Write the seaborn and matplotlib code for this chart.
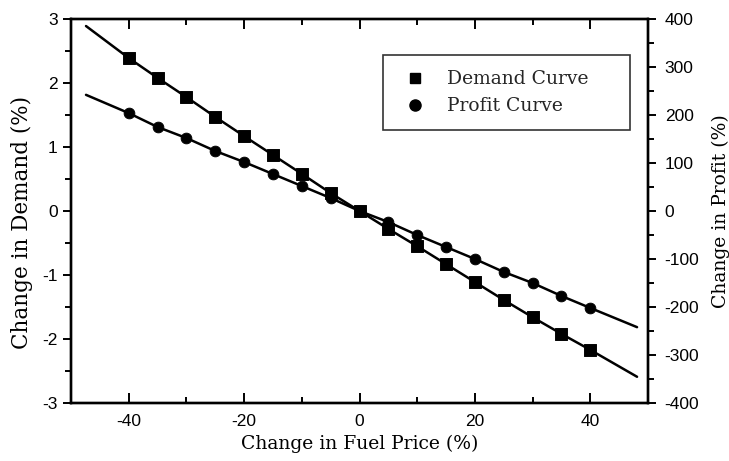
import numpy as np
import pandas as pd
import seaborn as sns
import matplotlib
matplotlib.use("Agg")
import matplotlib.pyplot as plt
from matplotlib.lines import Line2D
from matplotlib.ticker import MultipleLocator

# ---- data ----
fuel_change = [-40, -35, -30, -25, -20, -15, -10, -5, 0, 5, 10, 15, 20, 25, 30, 35, 40]
demand_change = [2.39, 2.08, 1.78, 1.47, 1.17, 0.875, 0.58, 0.28, 0.0,
                 -0.28, -0.55, -0.83, -1.11, -1.39, -1.66, -1.92, -2.17]
profit_change = [204, 175, 152, 125, 102, 77, 52, 27, 0,
                 -23, -50, -75, -100, -127, -150, -177, -202]
# line extensions beyond the outermost markers
ext_x = [-47.4, 48.1]
demand_ext = [2.89, -2.59]
profit_ext = [242, -242]

x_ticks = [-40, -20, 0, 20, 40]
left_ticks = [-3, -2, -1, 0, 1, 2, 3]
right_ticks = [-400, -300, -200, -100, 0, 100, 200, 300, 400]

sns.set_theme(style="white")
plt.rcParams["font.family"] = ["Liberation Sans", "DejaVu Sans"]
plt.rcParams["axes.unicode_minus"] = False

fig = plt.figure(figsize=(7.29, 4.61), dpi=100)
ax = fig.add_axes([0.0974, 0.1258, 0.7915, 0.833])
ax2 = ax.twinx()

df_pts = pd.DataFrame({"x": fuel_change, "demand": demand_change, "profit": profit_change})
df_line = pd.concat([df_pts, pd.DataFrame({"x": ext_x, "demand": demand_ext,
                                           "profit": profit_ext})]).sort_values("x")

# demand curve on left axis
sns.lineplot(data=df_line, x="x", y="demand", ax=ax, color="black", lw=1.8)
sns.scatterplot(data=df_pts, x="x", y="demand", ax=ax, marker="s", s=70,
                color="black", edgecolor="black", zorder=5)
# profit curve on right axis
sns.lineplot(data=df_line, x="x", y="profit", ax=ax2, color="black", lw=1.8)
sns.scatterplot(data=df_pts, x="x", y="profit", ax=ax2, marker="o", s=60,
                color="black", edgecolor="black", zorder=5)

ax.set_xlim(-50, 50)
ax.set_ylim(-3, 3)
ax2.set_ylim(-400, 400)

ax.set_xticks(x_ticks)
ax.xaxis.set_minor_locator(MultipleLocator(10))
ax.set_yticks(left_ticks)
ax.yaxis.set_minor_locator(MultipleLocator(0.5))
ax2.set_yticks(right_ticks)
ax2.yaxis.set_minor_locator(MultipleLocator(50))

for a in (ax, ax2):
    for s in a.spines.values():
        s.set_color("black")
        s.set_linewidth(1.7)

ax.tick_params(axis="x", which="both", direction="in", top=True, bottom=True,
               labelsize=12.5, colors="black", width=1.4)
ax.tick_params(axis="x", which="major", length=7, pad=8)
ax.tick_params(axis="x", which="minor", length=4)
ax.tick_params(axis="y", which="both", direction="out", left=True, labelsize=12.5,
               colors="black", width=1.4)
ax.tick_params(axis="y", which="major", length=6)
ax.tick_params(axis="y", which="minor", length=4)
ax2.tick_params(axis="y", which="both", direction="out", right=True, labelsize=12.5,
                colors="black", width=1.4)
ax2.tick_params(axis="y", which="major", length=6, pad=6)
ax2.tick_params(axis="y", which="minor", length=4)

serif = ["DejaVu Serif", "Liberation Serif"]
ax.set_xlabel("Change in Fuel Price (%)", family=serif, fontsize=13.5, color="black", labelpad=4)
ax.set_ylabel("Change in Demand (%)", family=serif, fontsize=15.5, color="black")
ax.yaxis.set_label_coords(-0.065, 0.471)
ax2.set_ylabel("Change in Profit (%)", family=serif, fontsize=13.5, color="black", labelpad=9)

handles = [
    Line2D([], [], marker="s", color="black", linestyle="none", markersize=7.5),
    Line2D([], [], marker="o", color="black", linestyle="none", markersize=8),
]
leg = ax2.legend(handles, ["Demand Curve", "Profit Curve"], loc="upper left",
                 bbox_to_anchor=(0.541, 0.703, 0.428, 0.203), mode="expand",
                 frameon=True, fancybox=False,
                 prop={"family": serif, "size": 13.5}, borderpad=0.8,
                 handlelength=1.8, handletextpad=0.8,
                 labelspacing=0.5, borderaxespad=0)
leg.get_frame().set_edgecolor("black")
leg.get_frame().set_linewidth(1.2)

fig.savefig("out.png", dpi=100)
